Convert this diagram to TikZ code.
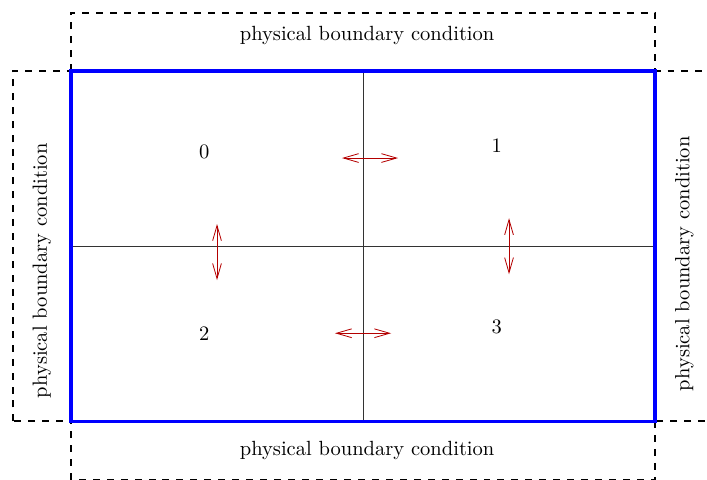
\documentclass[tikz,border=0pt]{standalone}
\usetikzlibrary{arrows.meta}
\tikzset{
  bcbox/.style={line width=1pt,dash pattern=on 3.4pt off 3.4pt},
  swap/.style={<->,draw={rgb,255:red,180;green,0;blue,0},thin,>={Straight Barb[length=2.6mm,width=1.5mm]}},
  bclabel/.style={font=\normalsize}
}
\begin{document}
\begin{tikzpicture}
\useasboundingbox (-1.216,-0.993) rectangle (10.89,7.216);
% 外侧：物理边界条件（虚线框）
\draw[bcbox] (0,6) rectangle (10,7);
\draw[bcbox] (0,-1) rectangle (10,0);
\draw[bcbox] (-1,0) rectangle (0,6);
\draw[bcbox] (10,0) rectangle (11,6);
\node[bclabel] (bctop) at (5.07,6.6) {physical boundary condition};
\node[bclabel] (bcbot) at (5.07,-0.5) {physical boundary condition};
\node[bclabel,rotate=90] (bcleft) at (-0.5,2.58) {physical boundary condition};
\node[bclabel,rotate=90] (bcright) at (10.5,2.7) {physical boundary condition};
% 计算域：四个子块
\draw[thin,black!80] (5,0) -- (5,6);
\draw[thin,black!80] (0,3) -- (10,3);
\draw[blue,line width=1.7pt] (0,0) rectangle (10,6);
\node (p0) at (2.28,4.61) {0};
\node (p1) at (7.29,4.72) {1};
\node (p2) at (2.28,1.51) {2};
\node (p3) at (7.29,1.62) {3};
% 子块之间的交换
\draw[swap] (4.64,4.51) -- (5.6,4.51);
\draw[swap] (4.52,1.51) -- (5.48,1.51);
\draw[swap] (2.5,3.38) -- (2.5,2.42);
\draw[swap] (7.5,3.48) -- (7.5,2.52);
\end{tikzpicture}
\end{document}
